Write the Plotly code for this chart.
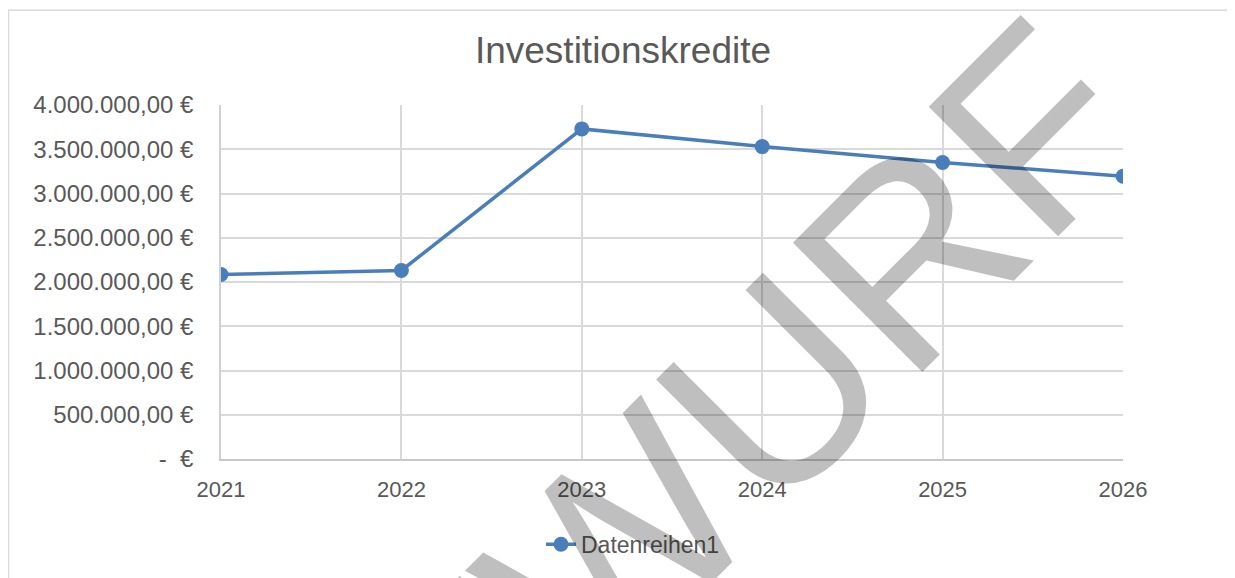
import plotly.graph_objects as go

years = ["2021", "2022", "2023", "2024", "2025", "2026"]
values = [2085000, 2130000, 3730000, 3530000, 3350000, 3195000]
series_name = "Datenreihen1"
title_text = "Investitionskredite"
y_tick_vals = [0, 500000, 1000000, 1500000, 2000000, 2500000, 3000000, 3500000, 4000000]
y_tick_text = ["-\u00a0\u00a0€", "500.000,00 €", "1.000.000,00 €", "1.500.000,00 €",
               "2.000.000,00 €", "2.500.000,00 €", "3.000.000,00 €", "3.500.000,00 €",
               "4.000.000,00 €"]
watermark = "ENTWURF"

O = 8  # page body margin offset
W, H = 1235 - O, 578 - O
L, R, T, B = 221 - O, 1123 - O, 105 - O, 462 - O

def px_x(p):
    return (p - O - L) / (R - L)

def px_y(p):
    return (B - (p - O)) / (B - T)

FONT = "Arial, Liberation Sans, sans-serif"
TXT = "#595959"
BLUE = "#4a7ebb"

fig = go.Figure()
fig.add_trace(go.Scatter(
    x=years, y=values, name=series_name, mode="lines+markers",
    line=dict(color=BLUE, width=3.5),
    marker=dict(color=BLUE, size=15),
    showlegend=True,
))

fig.update_layout(
    width=W, height=H,
    margin=dict(l=L, r=W - R, t=T, b=H - B),
    paper_bgcolor="white", plot_bgcolor="white",
    font=dict(family=FONT, color=TXT, size=23),
    title=dict(text=title_text, x=(623 - O) / W, xanchor="center", y=1 - (50 - O) / H,
               yanchor="middle", yref="container", font=dict(size=37, color=TXT, family=FONT)),
    xaxis=dict(type="category", range=[0, 5], showgrid=True, gridcolor="#d9d9d9", gridwidth=1.5,
               showline=True, linecolor="#c8c8c8", linewidth=1.5, zeroline=False,
               ticks="", ticklabelstandoff=10, tickfont=dict(size=22, color=TXT)),
    yaxis=dict(range=[0, 4000000], tickvals=y_tick_vals, ticktext=y_tick_text,
               showgrid=True, gridcolor="#d9d9d9", gridwidth=1.5, zeroline=False,
               showline=True, linecolor="#d0d0d0", linewidth=1.5,
               ticks="", ticklabelstandoff=21, tickfont=dict(size=24, color=TXT)),
    legend=dict(orientation="h", x=px_x(633), xanchor="center", y=px_y(548), yanchor="middle",
                font=dict(size=23, color=TXT), bgcolor="rgba(0,0,0,0)"),
    shapes=[dict(type="rect", xref="paper", yref="paper",
                 x0=px_x(8.5), x1=px_x(1300), y0=px_y(640), y1=px_y(9.5),
                 line=dict(color="#d9d9d9", width=1.5), fillcolor="rgba(0,0,0,0)", layer="below")],
    annotations=[dict(text=watermark, xref="paper", yref="paper",
                      x=px_x(622), y=px_y(545), xanchor="center", yanchor="middle",
                      showarrow=False, textangle=-45,
                      font=dict(size=266, color="rgba(0,0,0,0.25)", family=FONT))],
)

fig.write_html("out.html")
